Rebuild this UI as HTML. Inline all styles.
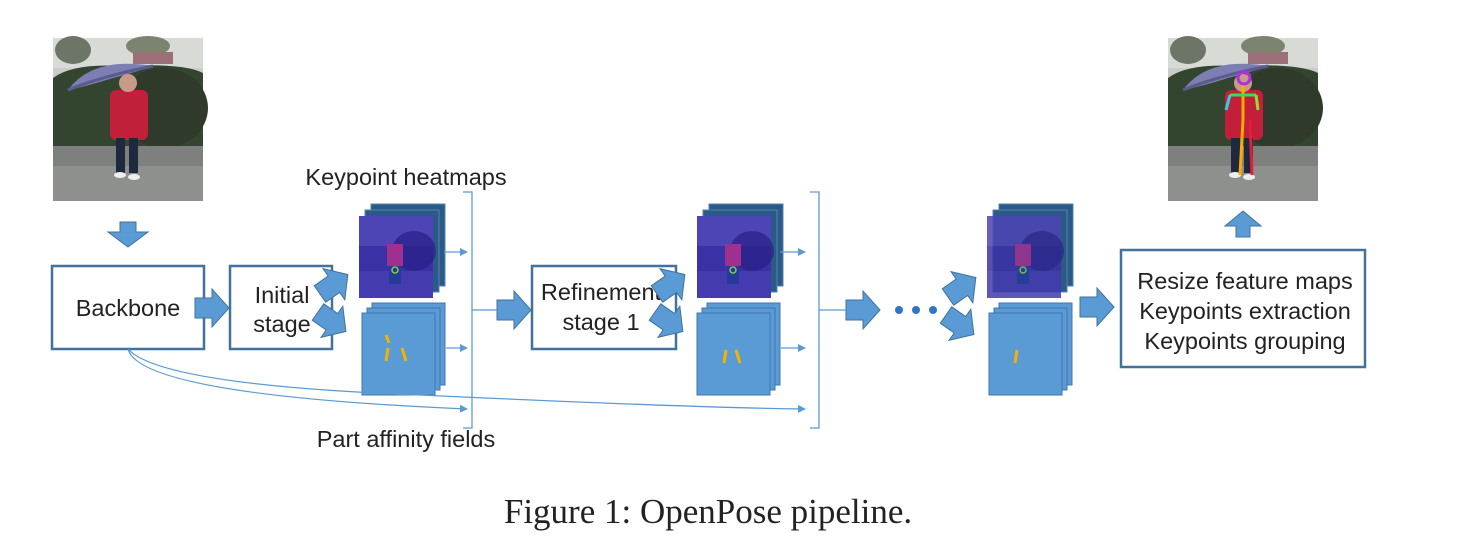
<!DOCTYPE html>
<html><head><meta charset="utf-8"><style>
html,body{margin:0;padding:0;background:#fff;}
svg{display:block;}
</style></head><body>
<svg width="1458" height="558" viewBox="0 0 1458 558" xmlns="http://www.w3.org/2000/svg">
<defs>
<g id="photo">
  <rect x="0" y="0" width="150" height="163" fill="#c9ccc8"/>
  <rect x="0" y="0" width="150" height="30" fill="#d8dad6"/>
  <ellipse cx="20" cy="12" rx="18" ry="14" fill="#6d7566"/>
  <ellipse cx="95" cy="8" rx="22" ry="10" fill="#7b8470"/>
  <rect x="80" y="14" width="40" height="12" fill="#9b6f78"/>
  <path d="M0 40 Q20 25 70 28 Q130 25 150 35 L150 108 L0 108 Z" fill="#34452f"/>
  <ellipse cx="110" cy="70" rx="45" ry="40" fill="#2f3a2b"/>
  <rect x="0" y="108" width="150" height="55" fill="#7d807d"/>
  <rect x="0" y="128" width="150" height="35" fill="#8e908e"/>
  <path d="M15 52 Q40 18 100 28 Q80 35 60 40 Q35 48 15 52Z" fill="#7d7fb4"/>
  <path d="M15 52 Q50 38 100 28" stroke="#5a5c90" stroke-width="3" fill="none"/>
  <rect x="57" y="52" width="38" height="50" rx="6" fill="#c2203a"/>
  <circle cx="75" cy="45" r="9" fill="#c89a88"/>
  <rect x="63" y="100" width="9" height="35" fill="#1e2940"/>
  <rect x="76" y="100" width="9" height="35" fill="#1e2940"/>
  <ellipse cx="67" cy="137" rx="6" ry="3" fill="#eee"/>
  <ellipse cx="81" cy="139" rx="6" ry="3" fill="#eee"/>
</g>
<g id="heat">
  <rect x="0" y="0" width="74" height="82" fill="#3b31a6"/>
  <rect x="0" y="0" width="74" height="30" fill="#5a52c0" opacity="0.6"/>
  <ellipse cx="55" cy="35" rx="22" ry="20" fill="#2a2088" opacity="0.7"/>
  <rect x="0" y="55" width="74" height="27" fill="#4840b5" opacity="0.7"/>
  <rect x="28" y="28" width="16" height="22" fill="#a0308f"/>
  <rect x="30" y="50" width="12" height="18" fill="#253a9a"/>
  <circle cx="36" cy="54" r="3" fill="none" stroke="#7ed040" stroke-width="1.5"/>
</g>
<g id="stackbackH">
  <rect x="12" y="-12" width="74" height="82" fill="#2c5a86" stroke="#4f83b5" stroke-width="1"/>
  <rect x="6" y="-6" width="74" height="82" fill="#2c5a86" stroke="#4f83b5" stroke-width="1"/>
</g>
<g id="stackP">
  <rect x="10" y="-10" width="73" height="82" fill="#5b9bd5" stroke="#3f77ab" stroke-width="1"/>
  <rect x="5" y="-5" width="73" height="82" fill="#5b9bd5" stroke="#3f77ab" stroke-width="1"/>
  <rect x="0" y="0" width="73" height="82" fill="#5b9bd5" stroke="#3f77ab" stroke-width="1"/>
</g>
<path id="rarrow" d="M0 -10 L17 -10 L17 -19 L34 0 L17 19 L17 10 L0 10 Z" fill="#5b9bd5" stroke="#41719c" stroke-width="1"/>
<marker id="ah" markerWidth="8" markerHeight="8" refX="7" refY="4" orient="auto" markerUnits="userSpaceOnUse">
  <path d="M0 0 L8 4 L0 8 Z" fill="#5b9bd5"/>
</marker>
</defs>

<use href="#photo" x="53" y="38"/>
<use href="#photo" x="1168" y="38"/>
<g stroke-width="3" fill="none">
  <line x1="1243" y1="85" x2="1243" y2="120" stroke="#ffaa00"/>
  <line x1="1243" y1="120" x2="1240" y2="175" stroke="#ffaa00"/>
  <line x1="1250" y1="120" x2="1252" y2="175" stroke="#e0203a"/>
  <line x1="1230" y1="95" x2="1256" y2="95" stroke="#38e050"/>
  <line x1="1230" y1="95" x2="1226" y2="110" stroke="#30d0e0"/>
  <line x1="1256" y1="95" x2="1258" y2="110" stroke="#90e030"/>
  <circle cx="1244" cy="78" r="6" stroke="#b030e0"/>
</g>

<path d="M120 222 L136 222 L136 232 L148 232 L128 247 L108 232 L120 232 Z" fill="#5b9bd5" stroke="#41719c"/>
<path d="M1236 237 L1250 237 L1250 226 L1261 226 L1243 211 L1225 226 L1236 226 Z" fill="#5b9bd5" stroke="#41719c"/>

<rect x="52" y="266" width="152" height="83" fill="#fff" stroke="#41719c" stroke-width="2.5"/>
<rect x="230" y="266" width="102" height="83" fill="#fff" stroke="#41719c" stroke-width="2.5"/>
<rect x="532" y="266" width="144" height="83" fill="#fff" stroke="#41719c" stroke-width="2.5"/>
<rect x="1121" y="250" width="244" height="117" fill="#fff" stroke="#41719c" stroke-width="2.5"/>

<g font-family="Liberation Sans, Arial, sans-serif" font-size="23.5" fill="#222" text-anchor="middle">
  <text x="128" y="316">Backbone</text>
  <text x="282" y="303">Initial</text>
  <text x="282" y="332">stage</text>
  <text x="601" y="300">Refinement</text>
  <text x="601" y="330">stage 1</text>
  <text x="1245" y="289">Resize feature maps</text>
  <text x="1245" y="319">Keypoints extraction</text>
  <text x="1245" y="349">Keypoints grouping</text>
  <text x="406" y="185">Keypoint heatmaps</text>
  <text x="406" y="447">Part affinity fields</text>
</g>
<text x="708" y="523" font-family="Liberation Serif, Times New Roman, serif" font-size="35" fill="#222" text-anchor="middle">Figure 1: OpenPose pipeline.</text>

<use href="#rarrow" x="195" y="308"/>
<use href="#rarrow" x="497" y="310"/>
<use href="#rarrow" x="846" y="310"/>
<use href="#rarrow" x="1080" y="307"/>

<g transform="translate(320,294) rotate(-35)"><use href="#rarrow"/></g>
<g transform="translate(318,312) rotate(35)"><use href="#rarrow"/></g>
<g transform="translate(657,294) rotate(-35)"><use href="#rarrow"/></g>
<g transform="translate(655,312) rotate(35)"><use href="#rarrow"/></g>
<g transform="translate(948,297) rotate(-35)"><use href="#rarrow"/></g>
<g transform="translate(946,315) rotate(35)"><use href="#rarrow"/></g>

<circle cx="899" cy="310" r="4" fill="#2e75c8"/>
<circle cx="916" cy="310" r="4" fill="#2e75c8"/>
<circle cx="933" cy="310" r="4" fill="#2e75c8"/>

<g transform="translate(359,216)"><use href="#stackbackH"/><use href="#heat"/></g>
<g transform="translate(362,313)"><use href="#stackP"/>
  <path d="M24 22 l3 8" stroke="#f0b400" stroke-width="3"/><path d="M26 35 l-2 13" stroke="#f0b400" stroke-width="3"/><path d="M40 35 l4 13" stroke="#f0b400" stroke-width="3"/></g>
<g transform="translate(697,216)"><use href="#stackbackH"/><use href="#heat"/></g>
<g transform="translate(697,313)"><use href="#stackP"/>
  <path d="M29 37 l-2 13" stroke="#f0b400" stroke-width="3"/><path d="M39 37 l4 13" stroke="#f0b400" stroke-width="3"/></g>
<g transform="translate(987,216)"><use href="#stackbackH"/><use href="#heat" opacity="0.85"/></g>
<g transform="translate(989,313)"><use href="#stackP"/>
  <path d="M28 37 l-2 13" stroke="#f0b400" stroke-width="3"/></g>

<g stroke="#5b9bd5" stroke-width="1.3" fill="none">
  <line x1="444" y1="252" x2="467" y2="252" marker-end="url(#ah)"/>
  <line x1="446" y1="348" x2="467" y2="348" marker-end="url(#ah)"/>
  <line x1="780" y1="252" x2="805" y2="252" marker-end="url(#ah)"/>
  <line x1="781" y1="348" x2="805" y2="348" marker-end="url(#ah)"/>
  <path d="M128 349 Q140 395 467 409" marker-end="url(#ah)"/>
  <path d="M128 349 Q160 385 420 395 Q700 408 805 409" marker-end="url(#ah)"/>
  <path d="M463 192 L472 192 L472 428 L463 428"/>
  <line x1="472" y1="310" x2="497" y2="310"/>
  <path d="M810 192 L819 192 L819 428 L810 428"/>
  <line x1="819" y1="310" x2="846" y2="310"/>
</g>
</svg>
</body></html>
